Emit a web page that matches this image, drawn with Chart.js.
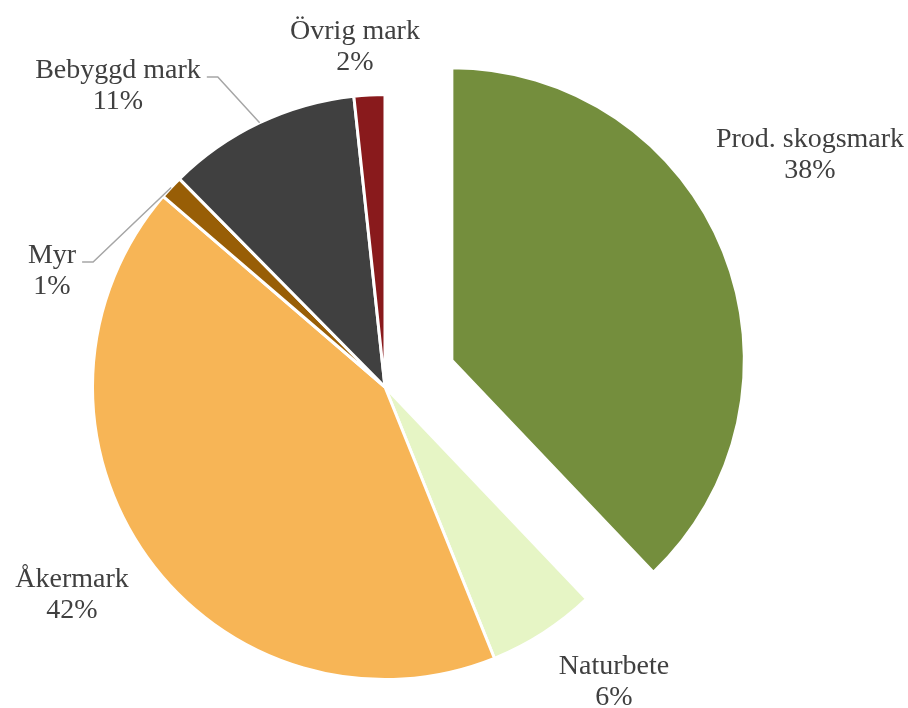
<!DOCTYPE html>
<html>
<head>
<meta charset="utf-8">
<script src="https://cdn.jsdelivr.net/npm/chart.js@4.4.1/dist/chart.umd.min.js"></script>
<style>
  html, body { margin: 0; padding: 0; background: #fff; overflow: hidden; }
  #wrap { width: 908px; height: 708px; }
</style>
</head>
<body>
<div id="wrap"><canvas id="landChart" width="908" height="708"></canvas></div>
<script>
// land use shares (percent), clockwise from 12 o'clock
const categories = ['Prod. skogsmark', 'Naturbete', 'Åkermark', 'Myr', 'Bebyggd mark', 'Övrig mark']
const shares = [37.9, 6.0, 42.4, 1.3, 10.7, 1.7]
const sliceColors = ['#748E3D', '#E6F5C5', '#F7B556', '#985E06', '#404040', '#891A1C']

// label placement: offset of first text line (center, baseline) from pie center
const labelOffsets = [[425, -240], [229, 287], [-313, 200], [-333, -124], [-267, -309], [-30, -348]]
const withLeader = [false, false, false, true, true, false]
const explodePx = 72

const total = shares.reduce((a, b) => a + b, 0)

// pull the first slice out of the pie
const explodePlugin = {
    id: 'explode',
    afterDatasetsUpdate(chart) {
        const meta = chart.getDatasetMeta(0)
        const el = meta.data[0]
        const mid = (el.startAngle + el.endAngle) / 2
        el.x = (chart.chartArea.left + chart.chartArea.right) / 2 + Math.cos(mid) * explodePx
        el.y = (chart.chartArea.top + chart.chartArea.bottom) / 2 + Math.sin(mid) * explodePx
    }
}

// category + percent labels with leader lines
const labelPlugin = {
    id: 'pieLabels',
    afterDatasetsDraw(chart) {
        const ctx = chart.ctx
        const meta = chart.getDatasetMeta(0)
        const cx = (chart.chartArea.left + chart.chartArea.right) / 2
        const cy = (chart.chartArea.top + chart.chartArea.bottom) / 2
        ctx.save()
        ctx.font = '28px "Liberation Serif", "Times New Roman", serif'
        ctx.fillStyle = '#404040'
        ctx.textAlign = 'center'
        ctx.textBaseline = 'alphabetic'
        meta.data.forEach((el, i) => {
            const lx = cx + labelOffsets[i][0]
            const ly = cy + labelOffsets[i][1]
            const pct = Math.round(shares[i] / total * 100) + '%'
            ctx.fillText(categories[i], lx, ly)
            ctx.fillText(pct, lx, ly + 31)
            if (withLeader[i]) {
                const w = ctx.measureText(categories[i]).width
                const mid = (el.startAngle + el.endAngle) / 2
                const ex = el.x + Math.cos(mid) * el.outerRadius
                const ey = el.y + Math.sin(mid) * el.outerRadius
                const sx = lx + w / 2 + 6
                ctx.beginPath()
                ctx.strokeStyle = '#A6A6A6'
                ctx.lineWidth = 1.5
                ctx.moveTo(sx, ly - 1)
                ctx.lineTo(sx + 11, ly - 1)
                ctx.lineTo(ex, ey)
                ctx.stroke()
            }
        })
        ctx.restore()
    }
}

const ctx = document.getElementById('landChart').getContext('2d')
new Chart(ctx, {
    type: 'pie',
    data: {
        labels: categories,
        datasets: [{
            data: shares,
            backgroundColor: sliceColors,
            borderColor: '#ffffff',
            borderWidth: 3,
            hoverBorderWidth: 3,
            offset: 0,
            hoverOffset: 0
        }]
    },
    options: {
        responsive: false,
        animation: false,
        events: [],
        layout: {
            padding: { left: 91, right: 229, top: 88, bottom: 22 }
        },
        plugins: {
            legend: { display: false },
            tooltip: { enabled: false }
        }
    },
    plugins: [explodePlugin, labelPlugin]
});
</script>
</body>
</html>
